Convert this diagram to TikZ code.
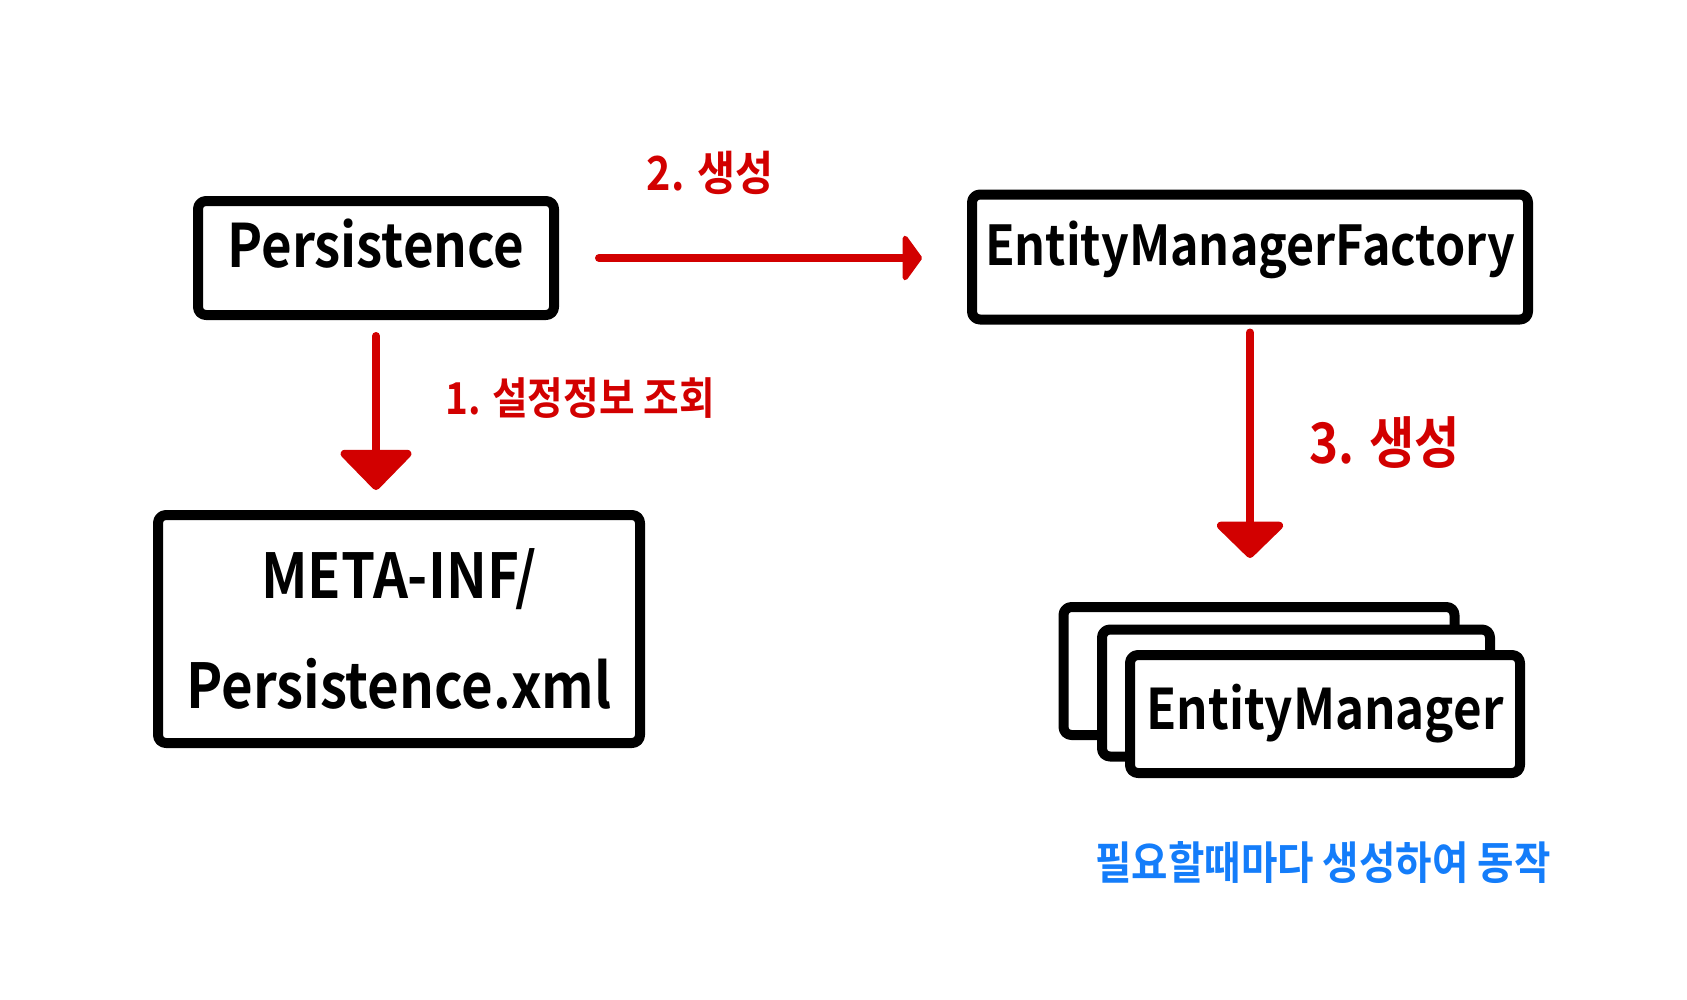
\documentclass[tikz,border=0pt]{standalone}
\usepackage{fontspec}
\newfontfamily\handfont{Noto Sans CJK KR Bold}[FakeStretch=0.88]
\usetikzlibrary{arrows.meta}
\definecolor{penred}{RGB}{210,0,0}
\definecolor{penblue}{RGB}{20,125,250}

\tikzset{
	box/.style={draw, line width=10pt, rounded corners=8pt, line join=round, fill=white, inner sep=0pt},
	flow/.style={penred, line width=8pt, line cap=round},
	steplabel/.style={penred, font=\handfont\fontsize{#1}{#1}\selectfont},
}

\begin{document}
\begin{tikzpicture}[x=1pt, y=-1pt, every node/.style={font=\handfont}]
	\useasboundingbox (0,0) rectangle (1687,999);
	% boxes
	\node[box, minimum width=356pt, minimum height=114pt, text depth=30pt, font=\handfont\fontsize{60}{60}\selectfont] (pers) at (376,258) {Persistence};
	\node[box, minimum width=556pt, minimum height=125pt, text depth=27pt, font=\handfont\fontsize{55}{55}\selectfont] (emf) at (1250,257) {EntityManagerFactory};
	\node[box, minimum width=482pt, minimum height=228pt, align=center, font=\handfont\fontsize{62}{110}\selectfont] (meta) at (399,629) {META-INF/\\Persistence.xml};
	% stack of managers
	\node[box, minimum width=391pt, minimum height=128pt] (emback) at (1259,671) {};
	\node[box, minimum width=388pt, minimum height=127pt] (emmid) at (1296,693) {};
	\node[box, minimum width=390pt, minimum height=118pt, font=\handfont\fontsize{56}{56}\selectfont] (em) at (1325,714) {EntityManager};
	% arrows
	\draw[flow, -{Triangle[length=42pt, width=80pt, round]}, shorten <=16pt, shorten >=20pt] (pers.south) -- (pers.south |- meta.north);
	\draw[flow, -{Triangle[length=20pt, width=54pt, round]}, shorten <=40pt, shorten >=45pt] (pers.east) -- (pers.east -| emf.west);
	\draw[flow, -{Triangle[length=38pt, width=76pt, round]}, shorten <=8pt, shorten >=44pt] (emf.south) -- (emf.south |- emback.north);
	% labels
	\node[steplabel=44] (lbl1) at (580,398) {1. 설정정보 조회};
	\node[steplabel=47] (lbl2) at (710,173) {2. 생성};
	\node[steplabel=56] (lbl3) at (1385,443) {3. 생성};
	\node[penblue, font=\handfont\fontsize{45}{45}\selectfont] (note) at (1323,863) {필요할때마다 생성하여 동작};
\end{tikzpicture}
\end{document}
